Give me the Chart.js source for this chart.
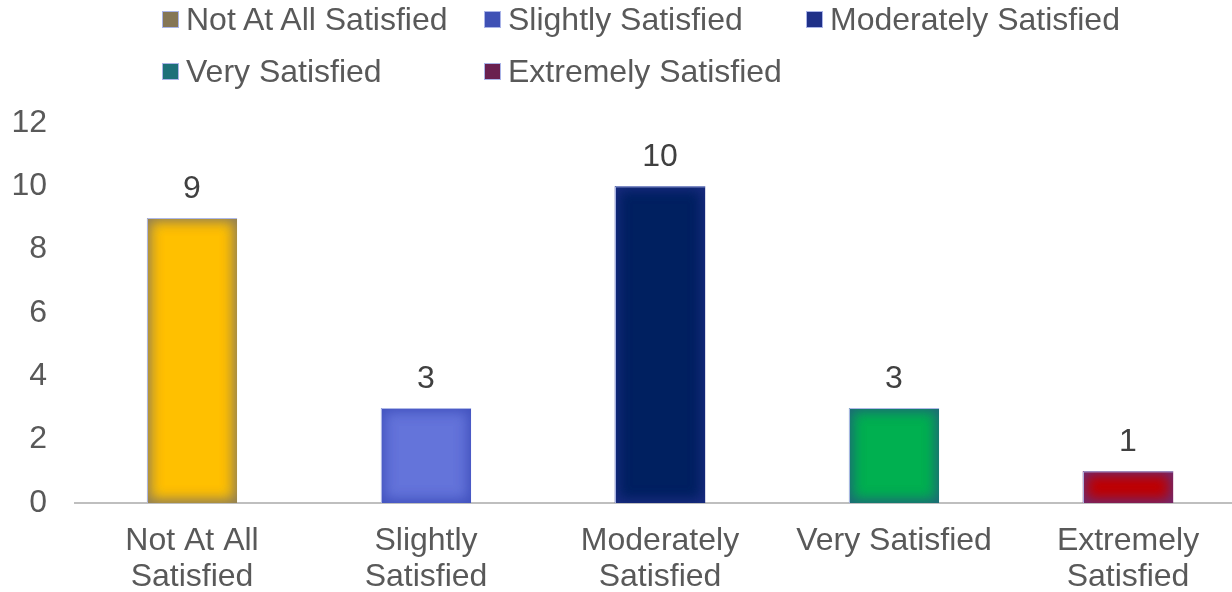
<!DOCTYPE html>
<html>
<head>
<meta charset="utf-8">
<script src="https://cdn.jsdelivr.net/npm/chart.js@4/dist/chart.umd.min.js"></script>
<style>
  html, body { margin: 0; padding: 0; background: #fff; overflow: hidden; }
  #wrap { position: relative; width: 1245px; height: 592px; }
  #legend {
    position: absolute; left: 162px; top: -7px;
    display: grid; grid-template-columns: 322px 322px auto;
    grid-auto-rows: 52px; align-items: center;
    font-family: "Liberation Sans", Arial, sans-serif; font-size: 32px; color: #595959;
  }
  #legend .item { display: flex; align-items: center; white-space: nowrap; height: 38px; }
  #legend .box { width: 17px; height: 17px; margin-right: 7px; border: 1px solid #aab4e8; box-sizing: border-box; }
</style>
</head>
<body>
<div id="wrap">
  <canvas id="satChart" width="1245" height="592"></canvas>
  <div id="legend"></div>
</div>
<script>
// chart data
var categories = ['Not At All Satisfied', 'Slightly Satisfied', 'Moderately Satisfied', 'Very Satisfied', 'Extremely Satisfied'];
var axisLabels = [['Not At All', 'Satisfied'], ['Slightly', 'Satisfied'], ['Moderately', 'Satisfied'], 'Very Satisfied', ['Extremely', 'Satisfied']];
var responses = [9, 3, 10, 3, 1];
var yTicks = [0, 2, 4, 6, 8, 10, 12];

// colours
var barColors = ['#FFC000', '#6474DA', '#002060', '#00B050', '#C00000'];
var barEdges = ['#8E7E58', '#4252BE', '#1A2C80', '#1E6878', '#6E2A70'];
var legendColors = ['#857656', '#3F51B5', '#1F3088', '#1D7079', '#6A2050'];

// build the html legend
var legendEl = document.getElementById('legend');
categories.forEach(function(name, i) {
    var item = document.createElement('div');
    item.className = 'item';
    if (i === 3) item.style.gridColumn = '1';
    var box = document.createElement('span');
    box.className = 'box';
    box.style.background = legendColors[i];
    var txt = document.createElement('span');
    txt.textContent = name;
    item.appendChild(box);
    item.appendChild(txt);
    legendEl.appendChild(item);
});

// inner glow on the bars (darker soft edges like the original)
var barGlow = {
    id: 'barGlow',
    afterDatasetsDraw: function(chart) {
        var c = chart.ctx;
        var meta = chart.getDatasetMeta(0);
        meta.data.forEach(function(bar, i) {
            var p = bar.getProps(['x', 'y', 'base', 'width'], true);
            var left = p.x - p.width / 2, top = p.y, h = p.base - p.y;
            c.save();
            c.beginPath();
            c.rect(left, top, p.width, h);
            c.clip();
            c.shadowColor = barEdges[i];
            c.shadowBlur = 15;
            c.lineWidth = 30;
            c.strokeStyle = barEdges[i];
            for (var k = 0; k < 2; k++) {
                c.strokeRect(left - 15, top - 15, p.width + 30, h + 30);
            }
            c.restore();
            // thin light top/left edge
            c.save();
            c.strokeStyle = '#AEB8E6';
            c.lineWidth = 1;
            c.beginPath();
            c.moveTo(left + 0.5, p.base);
            c.lineTo(left + 0.5, top + 0.5);
            c.lineTo(left + p.width, top + 0.5);
            c.stroke();
            c.restore();
        });
    }
};

// value labels above each bar
var valueLabels = {
    id: 'valueLabels',
    afterDatasetsDraw: function(chart) {
        var c = chart.ctx;
        var meta = chart.getDatasetMeta(0);
        c.save();
        c.font = '32px "Liberation Sans", Arial, sans-serif';
        c.fillStyle = '#404040';
        c.textAlign = 'center';
        c.textBaseline = 'middle';
        meta.data.forEach(function(bar, i) {
            c.fillText(responses[i], bar.x, bar.y - 29);
        });
        c.restore();
    }
};

var ctx = document.getElementById('satChart').getContext('2d');
var satChart = new Chart(ctx, {
    type: 'bar',
    data: {
        labels: axisLabels,
        datasets: [{
            label: 'Responses',
            data: responses,
            backgroundColor: barColors,
            borderWidth: 0,
            barPercentage: 0.385,
            categoryPercentage: 1
        }]
    },
    options: {
        responsive: false,
        animation: false,
        layout: { padding: { top: 123, left: 0, right: 0, bottom: 0 } },
        plugins: {
            legend: { display: false },
            tooltip: { enabled: false }
        },
        scales: {
            x: {
                grid: { display: false, drawTicks: false },
                border: { display: true, color: '#BFBFBF', width: 2 },
                ticks: {
                    color: '#595959',
                    font: { family: '"Liberation Sans", Arial, sans-serif', size: 32, lineHeight: 1.13 },
                    padding: 20,
                    maxRotation: 0,
                    autoSkip: false
                },
                afterFit: function(scale) { scale.height = 89; }
            },
            y: {
                min: 0,
                max: 12,
                afterBuildTicks: function(scale) {
                    scale.ticks = yTicks.map(function(v) { return { value: v }; });
                },
                grid: { display: false, drawTicks: false },
                border: { display: false },
                ticks: {
                    color: '#595959',
                    font: { family: '"Liberation Sans", Arial, sans-serif', size: 32 },
                    padding: 28
                },
                afterFit: function(scale) { scale.width = 75; }
            }
        }
    },
    plugins: [barGlow, valueLabels]
});
</script>
</body>
</html>
